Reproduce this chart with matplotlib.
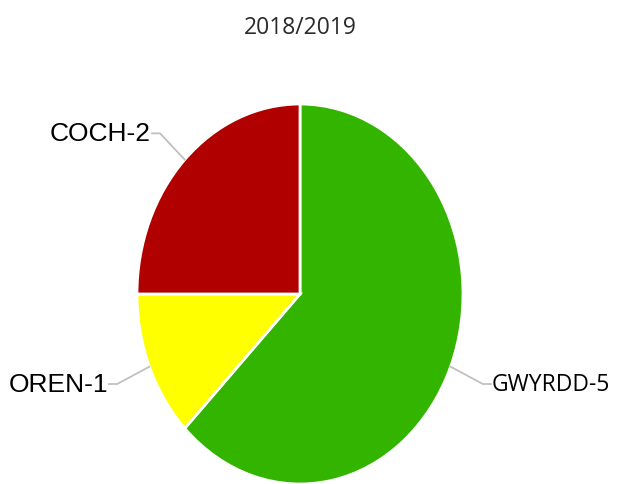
import numpy as np
import matplotlib.pyplot as plt

# data
labels = ['GWYRDD', 'OREN', 'COCH']
values = [5, 1, 2]
colors = ['#33b500', '#ffff00', '#b00000']
title = '2018/2019'

W, H = 617, 485
fig = plt.figure(figsize=(W / 100, H / 100), dpi=100)

# pie box in pixels: x 137..463, y 105..485 (from top)
rx, ry = 163, 190
ax = fig.add_axes([137 / W, (H - 485) / H, 2 * rx / W, 2 * ry / H])
wedges, _ = ax.pie(values, colors=colors, startangle=90, counterclock=False,
                   radius=1.0, wedgeprops=dict(edgecolor='white', linewidth=2))
ax.set_aspect('auto')
ax.set_xlim(-1, 1)
ax.set_ylim(-1, 1)
ax.axis('off')

for w, lab, v in zip(wedges, labels, values):
    mid = np.deg2rad((w.theta1 + w.theta2) / 2)
    c, s = np.cos(mid), np.sin(mid)
    side = 1 if c > 0 else -1
    ex, ey = c * (1 + 35 / rx), s * (1 + 40 / ry) - 2 / ry
    tx = ex + side * 8 / rx
    ax.plot([c, ex, tx], [s, ey, ey], color='#c0c0c0', lw=1.3, clip_on=False)
    txt = f'{lab}-{v}'
    if side > 0:
        ax.text(tx + 1 / rx, ey, txt, ha='left', va='center', fontsize=16.5,
                family='Open Sans', color='black')
    else:
        ax.text(tx - 1 / rx, ey, txt, ha='right', va='center', fontsize=19,
                family='Liberation Sans', color='black')

fig.text(300 / W, 1 - 28 / H, title, ha='center', va='center', fontsize=16.5,
         family='Open Sans', color='#2a2a2a')

fig.savefig('out.png', dpi=100)
